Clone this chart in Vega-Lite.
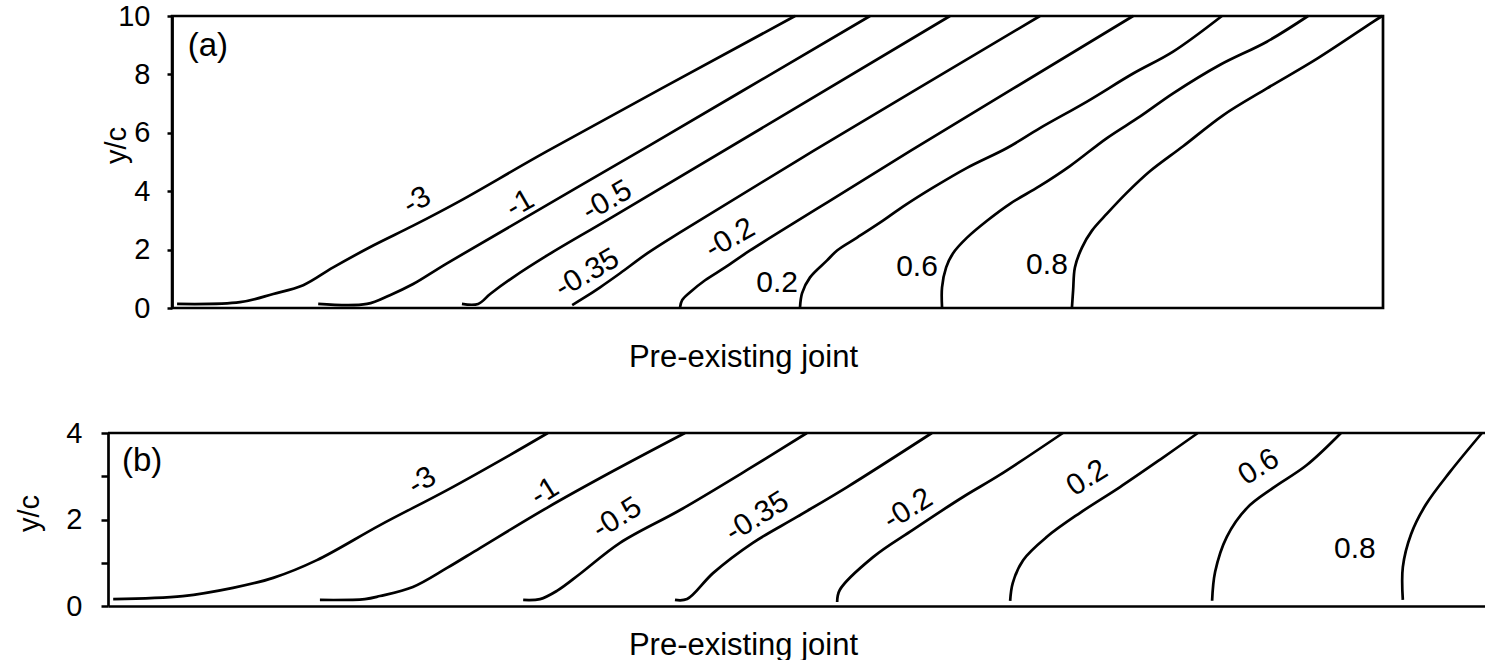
{
  "$schema": "https://vega.github.io/schema/vega-lite/v6.json",
  "padding": {"left": 15, "top": 2, "right": 0, "bottom": 0},
  "bounds": "flush",
  "spacing": 125,
  "config": {
    "font": "Liberation Sans",
    "view": {"stroke": null},
    "axis": {"labelFontSize": 29, "titleFontSize": 31, "titleFontWeight": "normal", "labelColor": "black", "titleColor": "black", "domainColor": "black", "tickColor": "black", "domainWidth": 2.7, "tickWidth": 2.5, "grid": false}
  },
  "datasets": {
    "a_lines": [
      {"c": "-3", "i": 0, "x": 0.17, "y": 0.14}, {"c": "-3", "i": 1, "x": 2.31, "y": 0.2}, {"c": "-3", "i": 2, "x": 3.44, "y": 0.48}, {"c": "-3", "i": 3, "x": 4.46, "y": 0.78}, {"c": "-3", "i": 4, "x": 5.48, "y": 1.39}, {"c": "-3", "i": 5, "x": 6.84, "y": 2.14}, {"c": "-3", "i": 6, "x": 8.2, "y": 2.82}, {"c": "-3", "i": 7, "x": 9.8, "y": 3.67}, {"c": "-3", "i": 8, "x": 12.76, "y": 5.37}, {"c": "-3", "i": 9, "x": 21.19, "y": 10},
      {"c": "-1", "i": 0, "x": 4.97, "y": 0.14}, {"c": "-1", "i": 1, "x": 6.63, "y": 0.14}, {"c": "-1", "i": 2, "x": 7.41, "y": 0.44}, {"c": "-1", "i": 3, "x": 8.2, "y": 0.82}, {"c": "-1", "i": 4, "x": 9.35, "y": 1.53}, {"c": "-1", "i": 5, "x": 16.26, "y": 5.58}, {"c": "-1", "i": 6, "x": 23.74, "y": 10},
      {"c": "-0.5", "i": 0, "x": 9.86, "y": 0.14}, {"c": "-0.5", "i": 1, "x": 10.41, "y": 0.14}, {"c": "-0.5", "i": 2, "x": 10.82, "y": 0.48}, {"c": "-0.5", "i": 3, "x": 11.6, "y": 1.05}, {"c": "-0.5", "i": 4, "x": 12.76, "y": 1.8}, {"c": "-0.5", "i": 5, "x": 15.0, "y": 3.13}, {"c": "-0.5", "i": 6, "x": 26.46, "y": 10},
      {"c": "-0.35", "i": 0, "x": 13.61, "y": 0.1}, {"c": "-0.35", "i": 1, "x": 13.95, "y": 0.31}, {"c": "-0.35", "i": 2, "x": 14.56, "y": 0.71}, {"c": "-0.35", "i": 3, "x": 15.24, "y": 1.19}, {"c": "-0.35", "i": 4, "x": 16.16, "y": 1.87}, {"c": "-0.35", "i": 5, "x": 17.28, "y": 2.59}, {"c": "-0.35", "i": 6, "x": 21.8, "y": 5.37}, {"c": "-0.35", "i": 7, "x": 29.52, "y": 10},
      {"c": "-0.2", "i": 0, "x": 17.28, "y": 0.03}, {"c": "-0.2", "i": 1, "x": 17.35, "y": 0.27}, {"c": "-0.2", "i": 2, "x": 17.62, "y": 0.54}, {"c": "-0.2", "i": 3, "x": 18.13, "y": 0.95}, {"c": "-0.2", "i": 4, "x": 18.81, "y": 1.39}, {"c": "-0.2", "i": 5, "x": 19.66, "y": 1.97}, {"c": "-0.2", "i": 6, "x": 21.94, "y": 3.4}, {"c": "-0.2", "i": 7, "x": 25.1, "y": 5.37}, {"c": "-0.2", "i": 8, "x": 32.69, "y": 10},
      {"c": "0.2", "i": 0, "x": 21.36, "y": 0.03}, {"c": "0.2", "i": 1, "x": 21.43, "y": 0.51}, {"c": "0.2", "i": 2, "x": 21.7, "y": 1.05}, {"c": "0.2", "i": 3, "x": 22.28, "y": 1.63}, {"c": "0.2", "i": 4, "x": 22.62, "y": 1.97}, {"c": "0.2", "i": 5, "x": 23.3, "y": 2.41}, {"c": "0.2", "i": 6, "x": 24.18, "y": 2.99}, {"c": "0.2", "i": 7, "x": 24.86, "y": 3.47}, {"c": "0.2", "i": 8, "x": 25.88, "y": 4.12}, {"c": "0.2", "i": 9, "x": 27.04, "y": 4.8}, {"c": "0.2", "i": 10, "x": 28.4, "y": 5.48}, {"c": "0.2", "i": 11, "x": 29.52, "y": 6.16}, {"c": "0.2", "i": 12, "x": 31.12, "y": 7.07}, {"c": "0.2", "i": 13, "x": 32.69, "y": 8.03}, {"c": "0.2", "i": 14, "x": 34.05, "y": 8.78}, {"c": "0.2", "i": 15, "x": 35.71, "y": 10},
      {"c": "0.6", "i": 0, "x": 26.19, "y": 0.03}, {"c": "0.6", "i": 1, "x": 26.19, "y": 0.71}, {"c": "0.6", "i": 2, "x": 26.33, "y": 1.39}, {"c": "0.6", "i": 3, "x": 26.56, "y": 1.87}, {"c": "0.6", "i": 4, "x": 27.04, "y": 2.41}, {"c": "0.6", "i": 5, "x": 27.72, "y": 2.99}, {"c": "0.6", "i": 6, "x": 28.5, "y": 3.57}, {"c": "0.6", "i": 7, "x": 29.52, "y": 4.18}, {"c": "0.6", "i": 8, "x": 30.54, "y": 4.86}, {"c": "0.6", "i": 9, "x": 31.8, "y": 5.82}, {"c": "0.6", "i": 10, "x": 32.93, "y": 6.56}, {"c": "0.6", "i": 11, "x": 34.05, "y": 7.35}, {"c": "0.6", "i": 12, "x": 35.65, "y": 8.33}, {"c": "0.6", "i": 13, "x": 37.24, "y": 9.12}, {"c": "0.6", "i": 14, "x": 38.64, "y": 10},
      {"c": "0.8", "i": 0, "x": 30.61, "y": 0.03}, {"c": "0.8", "i": 1, "x": 30.65, "y": 0.61}, {"c": "0.8", "i": 2, "x": 30.71, "y": 1.39}, {"c": "0.8", "i": 3, "x": 30.95, "y": 2.07}, {"c": "0.8", "i": 4, "x": 31.29, "y": 2.65}, {"c": "0.8", "i": 5, "x": 31.8, "y": 3.23}, {"c": "0.8", "i": 6, "x": 32.48, "y": 3.95}, {"c": "0.8", "i": 7, "x": 33.27, "y": 4.69}, {"c": "0.8", "i": 8, "x": 34.39, "y": 5.54}, {"c": "0.8", "i": 9, "x": 35.75, "y": 6.6}, {"c": "0.8", "i": 10, "x": 37.24, "y": 7.52}, {"c": "0.8", "i": 11, "x": 38.95, "y": 8.54}, {"c": "0.8", "i": 12, "x": 40.85, "y": 9.8}, {"c": "0.8", "i": 13, "x": 41.16, "y": 10}
    ],
    "a_labels_rot": [
      {"label": "-3", "x": 8.33, "y": 3.67}, {"label": "-1", "x": 11.84, "y": 3.57}, {"label": "-0.5", "x": 14.8, "y": 3.67}, {"label": "-0.35", "x": 14.12, "y": 1.19}, {"label": "-0.2", "x": 18.98, "y": 2.38}
    ],
    "a_labels_flat": [
      {"label": "0.2", "x": 20.58, "y": 0.85}, {"label": "0.6", "x": 25.34, "y": 1.39}, {"label": "0.8", "x": 29.76, "y": 1.46}
    ],
    "a_tag": [{"label": "(a)", "x": 1.22, "y": 8.98}],
    "b_lines": [
      {"c": "-3", "i": 0, "x": 0.12, "y": 0.16}, {"c": "-3", "i": 1, "x": 1.73, "y": 0.23}, {"c": "-3", "i": 2, "x": 2.89, "y": 0.42}, {"c": "-3", "i": 3, "x": 3.82, "y": 0.65}, {"c": "-3", "i": 4, "x": 4.83, "y": 1.06}, {"c": "-3", "i": 5, "x": 6.29, "y": 1.87}, {"c": "-3", "i": 6, "x": 7.84, "y": 2.68}, {"c": "-3", "i": 7, "x": 9.29, "y": 3.49}, {"c": "-3", "i": 8, "x": 10.17, "y": 4},
      {"c": "-1", "i": 0, "x": 4.9, "y": 0.14}, {"c": "-1", "i": 1, "x": 5.94, "y": 0.16}, {"c": "-1", "i": 2, "x": 6.29, "y": 0.23}, {"c": "-1", "i": 3, "x": 7.05, "y": 0.44}, {"c": "-1", "i": 4, "x": 7.84, "y": 0.88}, {"c": "-1", "i": 5, "x": 8.6, "y": 1.34}, {"c": "-1", "i": 6, "x": 10.15, "y": 2.27}, {"c": "-1", "i": 7, "x": 11.68, "y": 3.12}, {"c": "-1", "i": 8, "x": 13.34, "y": 4},
      {"c": "-0.5", "i": 0, "x": 9.6, "y": 0.14}, {"c": "-0.5", "i": 1, "x": 9.99, "y": 0.16}, {"c": "-0.5", "i": 2, "x": 10.38, "y": 0.35}, {"c": "-0.5", "i": 3, "x": 10.91, "y": 0.74}, {"c": "-0.5", "i": 4, "x": 11.84, "y": 1.46}, {"c": "-0.5", "i": 5, "x": 13.23, "y": 2.22}, {"c": "-0.5", "i": 6, "x": 14.77, "y": 3.14}, {"c": "-0.5", "i": 7, "x": 16.16, "y": 4},
      {"c": "-0.35", "i": 0, "x": 13.11, "y": 0.14}, {"c": "-0.35", "i": 1, "x": 13.39, "y": 0.16}, {"c": "-0.35", "i": 2, "x": 13.99, "y": 0.76}, {"c": "-0.35", "i": 3, "x": 14.91, "y": 1.46}, {"c": "-0.35", "i": 4, "x": 15.93, "y": 2.06}, {"c": "-0.35", "i": 5, "x": 17.09, "y": 2.75}, {"c": "-0.35", "i": 6, "x": 19.05, "y": 4},
      {"c": "-0.2", "i": 0, "x": 16.86, "y": 0.09}, {"c": "-0.2", "i": 1, "x": 16.92, "y": 0.37}, {"c": "-0.2", "i": 2, "x": 17.69, "y": 1.13}, {"c": "-0.2", "i": 3, "x": 18.61, "y": 1.76}, {"c": "-0.2", "i": 4, "x": 19.77, "y": 2.52}, {"c": "-0.2", "i": 5, "x": 20.62, "y": 3.03}, {"c": "-0.2", "i": 6, "x": 22.08, "y": 4},
      {"c": "0.2", "i": 0, "x": 20.86, "y": 0.12}, {"c": "0.2", "i": 1, "x": 20.92, "y": 0.53}, {"c": "0.2", "i": 2, "x": 21.16, "y": 1.06}, {"c": "0.2", "i": 3, "x": 21.71, "y": 1.6}, {"c": "0.2", "i": 4, "x": 22.47, "y": 2.15}, {"c": "0.2", "i": 5, "x": 23.4, "y": 2.75}, {"c": "0.2", "i": 6, "x": 24.32, "y": 3.38}, {"c": "0.2", "i": 7, "x": 25.2, "y": 4},
      {"c": "0.6", "i": 0, "x": 25.53, "y": 0.12}, {"c": "0.6", "i": 1, "x": 25.6, "y": 0.79}, {"c": "0.6", "i": 2, "x": 25.87, "y": 1.6}, {"c": "0.6", "i": 3, "x": 26.34, "y": 2.27}, {"c": "0.6", "i": 4, "x": 26.94, "y": 2.73}, {"c": "0.6", "i": 5, "x": 27.72, "y": 3.26}, {"c": "0.6", "i": 6, "x": 28.51, "y": 4},
      {"c": "0.8", "i": 0, "x": 29.94, "y": 0.14}, {"c": "0.8", "i": 1, "x": 29.94, "y": 0.9}, {"c": "0.8", "i": 2, "x": 30.13, "y": 1.66}, {"c": "0.8", "i": 3, "x": 30.47, "y": 2.34}, {"c": "0.8", "i": 4, "x": 31.03, "y": 3.1}, {"c": "0.8", "i": 5, "x": 31.77, "y": 4}
    ],
    "b_labels_rot": [
      {"label": "-3", "x": 7.26, "y": 2.89}, {"label": "-1", "x": 10.1, "y": 2.64}, {"label": "-0.5", "x": 11.77, "y": 2.03}, {"label": "-0.35", "x": 15.01, "y": 2.06}, {"label": "-0.2", "x": 18.5, "y": 2.24}, {"label": "0.2", "x": 22.64, "y": 2.96}, {"label": "0.6", "x": 26.61, "y": 3.21}
    ],
    "b_labels_flat": [
      {"label": "0.8", "x": 28.83, "y": 1.32}
    ],
    "b_tag": [{"label": "(b)", "x": 0.79, "y": 3.35}]
  },
  "vconcat": [
    {
      "width": 1275,
      "height": 292,
      "layer": [
        {
          "data": {"name": "a_lines"},
          "mark": {"type": "line", "color": "black", "strokeWidth": 2.7, "interpolate": "catmull-rom"},
          "encoding": {
            "x": {"field": "x", "type": "quantitative", "scale": {"domain": [-2.18, 41.19], "nice": false, "zero": false},
              "axis": {"title": "Pre-existing joint", "labels": false, "ticks": false, "domain": false, "titleX": 635, "titleY": 49, "titleAlign": "center", "titleBaseline": "middle"}},
            "y": {"field": "y", "type": "quantitative", "scale": {"domain": [0, 10], "nice": false, "zero": false},
              "axis": {"title": "y/c", "values": [0, 1, 2, 3, 4, 5, 6, 7, 8, 9, 10], "labelExpr": "datum.value % 2 == 0 ? datum.label : ''", "offset": -64, "tickSize": 5, "labelPadding": 17, "titleX": -56, "titleY": 129, "titleAngle": -90, "titleAlign": "center", "titleBaseline": "middle", "titleFontSize": 29}},
            "detail": {"field": "c"},
            "order": {"field": "i"}
          }
        },
        {
          "data": {"values": [{}]},
          "mark": {"type": "rect", "fillOpacity": 0, "stroke": "black", "strokeWidth": 2.7},
          "encoding": {
            "x": {"datum": 0, "type": "quantitative"},
            "x2": {"datum": 41.19},
            "y": {"datum": 0, "type": "quantitative"},
            "y2": {"datum": 10}
          }
        },
        {
          "data": {"name": "a_labels_rot"},
          "mark": {"type": "text", "fontSize": 30, "angle": -30, "align": "center", "baseline": "middle", "color": "black"},
          "encoding": {"x": {"field": "x", "type": "quantitative"}, "y": {"field": "y", "type": "quantitative"}, "text": {"field": "label"}}
        },
        {
          "data": {"name": "a_labels_flat"},
          "mark": {"type": "text", "fontSize": 30, "align": "center", "baseline": "middle", "color": "black"},
          "encoding": {"x": {"field": "x", "type": "quantitative"}, "y": {"field": "y", "type": "quantitative"}, "text": {"field": "label"}}
        },
        {
          "data": {"name": "a_tag"},
          "mark": {"type": "text", "fontSize": 33, "align": "center", "baseline": "middle", "color": "black"},
          "encoding": {"x": {"field": "x", "type": "quantitative"}, "y": {"field": "y", "type": "quantitative"}, "text": {"field": "label"}}
        }
      ]
    },
    {
      "width": 1377,
      "height": 173,
      "layer": [
        {
          "data": {"name": "b_lines"},
          "mark": {"type": "line", "color": "black", "strokeWidth": 2.7, "interpolate": "catmull-rom"},
          "encoding": {
            "x": {"field": "x", "type": "quantitative", "scale": {"domain": [0, 31.84], "nice": false, "zero": false},
              "axis": {"title": "Pre-existing joint", "labels": false, "ticks": false, "domain": true, "titleX": 635, "titleY": 39, "titleAlign": "center", "titleBaseline": "middle"}},
            "y": {"field": "y", "type": "quantitative", "scale": {"domain": [0, 4], "nice": false, "zero": false},
              "axis": {"title": "y/c", "values": [0, 1, 2, 3, 4], "labelExpr": "datum.value % 2 == 0 ? datum.label : ''", "tickSize": 7, "labelPadding": 19, "titleX": -79, "titleY": 80, "titleAngle": -90, "titleAlign": "center", "titleBaseline": "middle", "titleFontSize": 29}},
            "detail": {"field": "c"},
            "order": {"field": "i"}
          }
        },
        {
          "data": {"values": [{}]},
          "mark": {"type": "rule", "color": "black", "strokeWidth": 2.7},
          "encoding": {"y": {"datum": 4, "type": "quantitative"}}
        },
        {
          "data": {"name": "b_labels_rot"},
          "mark": {"type": "text", "fontSize": 30, "angle": -32, "align": "center", "baseline": "middle", "color": "black"},
          "encoding": {"x": {"field": "x", "type": "quantitative"}, "y": {"field": "y", "type": "quantitative"}, "text": {"field": "label"}}
        },
        {
          "data": {"name": "b_labels_flat"},
          "mark": {"type": "text", "fontSize": 30, "align": "center", "baseline": "middle", "color": "black"},
          "encoding": {"x": {"field": "x", "type": "quantitative"}, "y": {"field": "y", "type": "quantitative"}, "text": {"field": "label"}}
        },
        {
          "data": {"name": "b_tag"},
          "mark": {"type": "text", "fontSize": 33, "align": "center", "baseline": "middle", "color": "black"},
          "encoding": {"x": {"field": "x", "type": "quantitative"}, "y": {"field": "y", "type": "quantitative"}, "text": {"field": "label"}}
        }
      ]
    }
  ]
}
